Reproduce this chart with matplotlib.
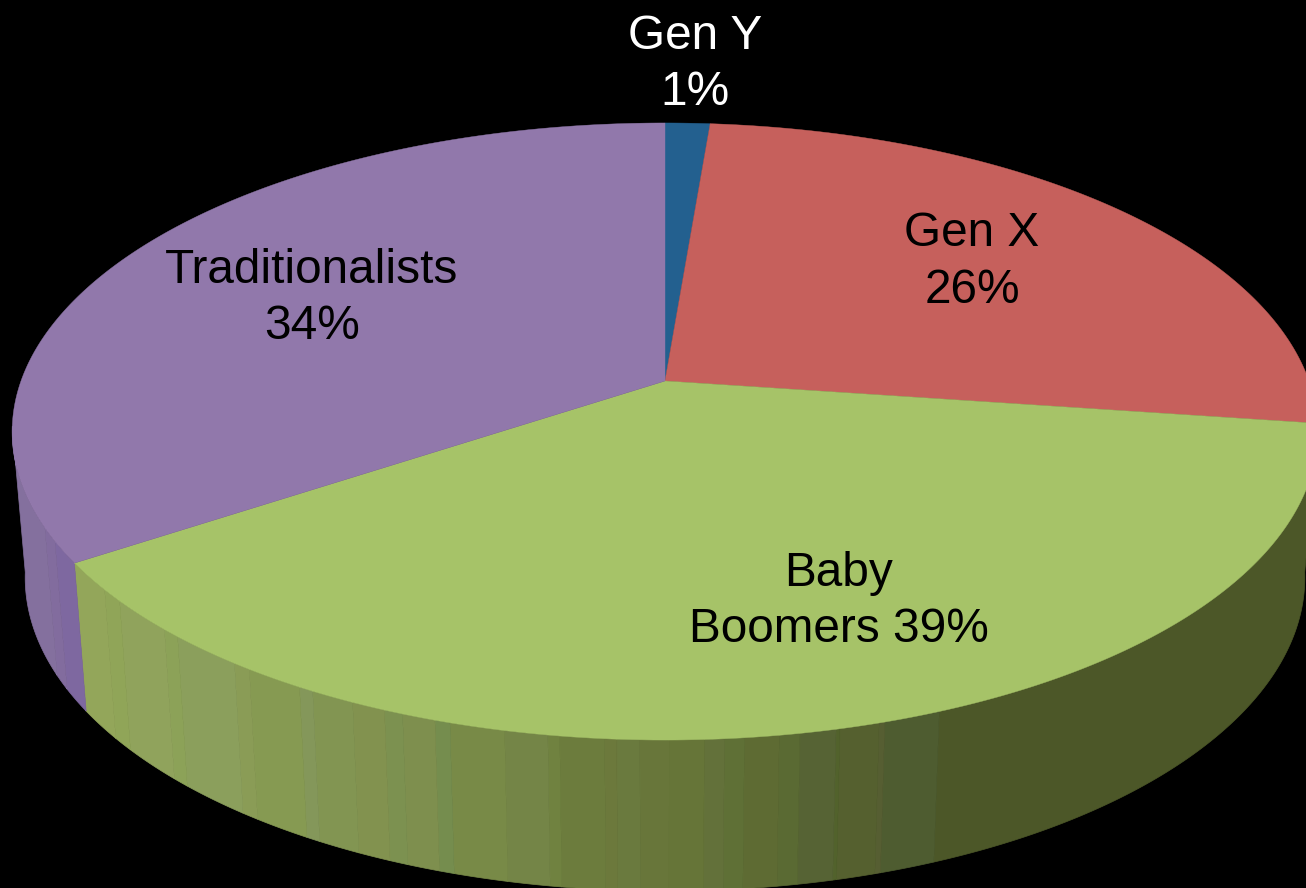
import numpy as np
import matplotlib
matplotlib.use("Agg")
import matplotlib.pyplot as plt

# shares (labels are the rounded ones)
names = ["Gen Y", "Gen X", "Baby Boomers", "Traditionalists"]
shares = [1.3, 25.9, 38.5, 34.3]
percent_labels = ["1%", "26%", "39%", "34%"]

top_colors = ["#23608f", "#c6605c", "#a6c368", "#9178ab"]

# side shading, right edge of each band in pixels
green_band_x = [105, 120, 165, 178, 235, 250, 300, 313, 353, 385, 403, 435, 450, 505, 548, 560,
                605, 617, 640, 670, 705, 725, 745, 780, 800, 837, 840, 880, 885, 940, 1400]
green_band_c = ["#93a65a", "#90a558", "#90a35c", "#8ca258", "#8b9f5c", "#8a9c56", "#869a52", "#84975a",
                "#829552", "#82924f", "#7c9150", "#7e8f4e", "#758d4e", "#788a47", "#748547", "#708240",
                "#6c7c3d", "#6c793c", "#6a7a3e", "#68763a", "#667538", "#63713a", "#5f7036", "#5e6b33",
                "#5a6a33", "#566334", "#52622c", "#55602f", "#565e32", "#4e5c30", "#4c5728"]
purple_band_x = [45, 55, 90]
purple_band_c = ["#84709e", "#826c9e", "#7e68a0"]

# top ellipse / perspective
cx, cy, rx, ry = 665, 431, 653, 308
apex_y = 381
k = -0.1637
c = 237.9
A = 644
# bottom ellipse
bx, by, brx, bry = 665, 577, 640, 313


def top_point(frac):
    th = 2 * np.pi * np.asarray(frac)
    u = np.sin(th)
    v = -np.cos(th)
    d = 1 + k * v
    return cx + A * u / d, (apex_y + c * v) / d


def bottom_point(x, y):
    return bx + brx * (x - cx) / rx, by + bry * (y - cy) / ry


def band_color(x, edges, colors):
    i = min(np.searchsorted(edges, x), len(colors) - 1)
    return colors[i]


fig = plt.figure(figsize=(13.06, 8.88), dpi=100, facecolor="black")
ax = fig.add_axes([0, 0, 1, 1])
ax.set_xlim(0, 1306)
ax.set_ylim(888, 0)
ax.axis("off")

ends = np.cumsum(shares) / 100
starts = np.concatenate([[0], ends[:-1]])

# side wall, one polygon per shading band
ts = np.linspace(0, 1, 4801)
xs, ys = top_point(ts)
xb, yb = bottom_point(xs, ys)
keep = ys >= cy - 5
idx = np.where(keep)[0]
run = [idx[0]]
run_col = None
for i in idx:
    if ts[i] >= starts[3]:
        col = band_color(xs[i], purple_band_x, purple_band_c)
    else:
        col = band_color(xs[i], green_band_x, green_band_c)
    if run_col is None:
        run_col = col
    if col != run_col:
        run.append(i)
        ax.fill(np.r_[xs[run], xb[run][::-1]], np.r_[ys[run], yb[run][::-1]],
                color=run_col, lw=0.5, zorder=1)
        run = [i]
        run_col = col
    else:
        run.append(i)
ax.fill(np.r_[xs[run], xb[run][::-1]], np.r_[ys[run], yb[run][::-1]],
        color=run_col, lw=0.5, zorder=1)

# top surface
for s, e, col in zip(starts, ends, top_colors):
    t = np.linspace(s, e, 300)
    x, y = top_point(t)
    ax.fill(np.r_[cx, x], np.r_[apex_y, y], color=col, lw=0.3, zorder=2)

fs = 34.4
font = "Liberation Sans"
ax.text(695, 49, names[0], color="white", fontsize=fs, family=font, ha="center", va="baseline", zorder=3)
ax.text(695, 105, percent_labels[0], color="white", fontsize=fs, family=font, ha="center", va="baseline", zorder=3)
ax.text(972, 246, names[1], color="black", fontsize=fs, family=font, ha="center", va="baseline", zorder=3)
ax.text(972, 303, percent_labels[1], color="black", fontsize=fs, family=font, ha="center", va="baseline", zorder=3)
ax.text(839, 586, "Baby", color="black", fontsize=fs, family=font, ha="center", va="baseline", zorder=3)
ax.text(839, 642, "Boomers " + percent_labels[2], color="black", fontsize=fs, family=font, ha="center", va="baseline", zorder=3)
ax.text(312, 283, names[3], color="black", fontsize=fs, family=font, ha="center", va="baseline", zorder=3)
ax.text(312, 339, percent_labels[3], color="black", fontsize=fs, family=font, ha="center", va="baseline", zorder=3)

fig.savefig("out.png", dpi=100, facecolor="black")
